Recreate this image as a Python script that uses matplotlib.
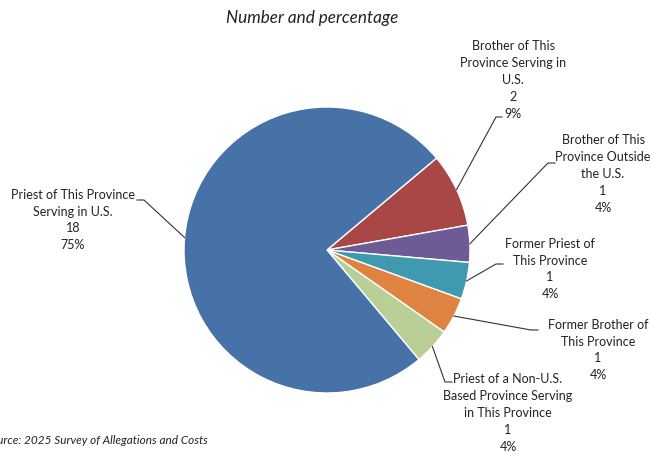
import matplotlib.pyplot as plt
import numpy as np

categories = [
    "Brother of This\nProvince Serving in\nU.S.",
    "Brother of This\nProvince Outside\nthe U.S.",
    "Former Priest of\nThis Province",
    "Former Brother of\nThis Province",
    "Priest of a Non-U.S.\nBased Province Serving\nin This Province",
    "Priest of This Province\nServing in U.S.",
]
counts = [2, 1, 1, 1, 1, 18]
percents = [9, 4, 4, 4, 4, 75]
colors = ["#A84745", "#6E5A94", "#3F9AB0", "#DE8342", "#B9CF96", "#4672A8"]

# label layout in pixel coords (y from top): text center, leader start, elbow
text_pos = [(513, 80), (603, 174), (550, 269), (598, 350), (508, 413), (73, 220)]
lead_start = [(502, 117), (555, 163), (503, 264), (538, 330), (452, 382), (137, 200)]
lead_elbow = [(496, 117), (548, 163), (496, 264), (531, 330), (445, 382), (144, 200)]

W, H = 652, 454
cx, cy, r = 327, 250, 143

plt.rcParams['font.family'] = ['Lato', 'DejaVu Sans']

fig = plt.figure(figsize=(6.52, 4.54), dpi=100)
ax = fig.add_axes([0, 0, 1, 1])
wedges, _ = ax.pie(counts, colors=colors, startangle=40, counterclock=False,
                   radius=r, center=(cx, H - cy),
                   wedgeprops=dict(edgecolor="white", linewidth=1))
ax.set_xlim(0, W)
ax.set_ylim(0, H)
ax.set_aspect('equal')
ax.axis('off')

for i, w in enumerate(wedges):
    mid = np.deg2rad((w.theta1 + w.theta2) / 2)
    ax_x = cx + r * np.cos(mid)
    ax_y = H - cy + r * np.sin(mid)
    sx, sy = lead_start[i]
    ex, ey = lead_elbow[i]
    ax.plot([sx, ex, ax_x], [H - sy, H - ey, ax_y], color="#333333", lw=0.8)
    tx, ty = text_pos[i]
    ax.text(tx, H - ty, f"{categories[i]}\n{counts[i]}\n{percents[i]}%",
            ha='center', va='center', fontsize=9.0, linespacing=1.48,
            color="#222222")

ax.text(312, H - 18, "Number and percentage", ha='center', va='center',
        fontsize=12.3, style='italic', color="#222222")
ax.text(208, H - 440, "Source: 2025 Survey of Allegations and Costs",
        ha='right', va='center', fontsize=8.5, style='italic', color="#222222")

fig.savefig("out.png", dpi=100)
